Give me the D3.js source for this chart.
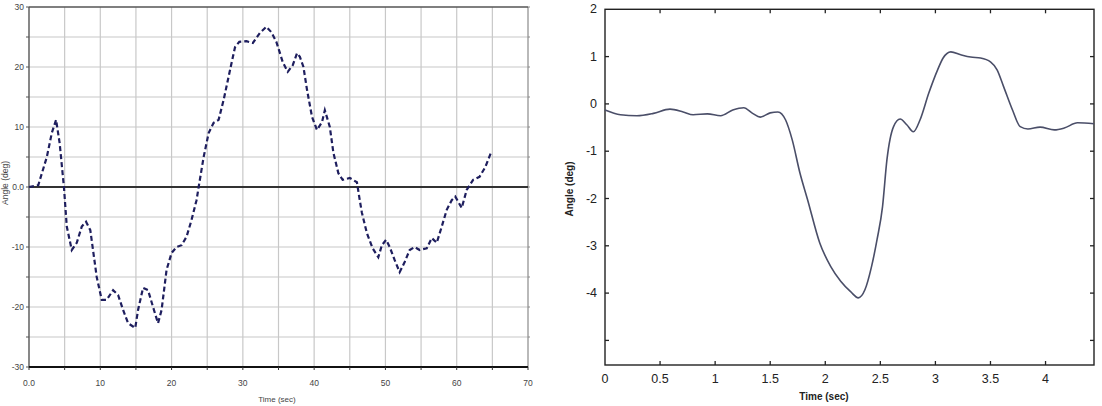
<!DOCTYPE html>
<html><head><meta charset="utf-8">
<script src="https://cdn.jsdelivr.net/npm/d3@7"></script>
<style>body{margin:0;background:#fff}svg{display:block}</style>
</head><body>
<svg id="c" width="1102" height="406"></svg>
<script>
// ---- Left chart data ----
const leftTime = [0,1.3,2.5,3.2,3.8,4.3,4.9,5.3,6.0,6.7,7.4,8.0,8.6,9.5,10.2,10.9,11.8,12.5,13.2,13.9,14.9,15.3,16.0,16.7,17.4,18.1,18.6,19.3,20.0,20.7,21.4,22.1,22.8,23.5,23.8,24.5,25.2,25.9,26.6,27.3,28.2,28.9,29.5,30.5,31.4,32.4,33.3,34.0,34.7,35.6,36.3,37.0,37.6,38.0,38.5,39.0,39.7,40.4,41.1,41.5,42.2,42.7,43.4,44.0,45.0,46.0,46.4,46.7,47.4,48.2,49.0,49.5,50.1,50.6,51.3,52.0,52.7,53.4,54.1,54.8,55.8,56.5,57.2,57.9,58.6,59.3,59.8,60.7,61.4,62.3,63.2,64.0,64.8];
const leftAngle = [0,0.3,5,9,11.2,7.3,0,-6.6,-10.5,-9.3,-6.6,-5.8,-7.2,-15,-18.8,-18.8,-17.2,-18,-20.5,-22.7,-23.5,-20.5,-16.8,-17.2,-20,-22.7,-20.5,-13.8,-11,-10,-9.7,-8.3,-5.5,-2.2,0,5,9,10.7,11.2,14.5,19.5,23.3,24.2,24.3,24,25.7,26.7,25.8,24.2,20.8,19.2,20.3,22.3,21.7,20,16.2,11.7,9.5,10.8,12.8,10,5.7,2.3,1.2,1.5,0.8,-2.2,-4.3,-7.7,-10.2,-11.7,-9.7,-8.8,-10,-12.2,-14.2,-12.5,-10.5,-10,-10.5,-10.2,-8.5,-9.3,-6.6,-3.8,-2.2,-1.6,-3.5,-0.5,1.2,1.7,3.3,5.7];
const leftXTicks = [0,10,20,30,40,50,60,70];
const leftXLabels = ["0.0","10","20","30","40","50","60","70"];
const leftYTicks = [30,20,10,0,-10,-20,-30];
const leftYLabels = ["30","20","10","0.0","-10","-20","-30"];

// ---- Right chart data ----
const rightTime = [0,0.14,0.29,0.44,0.59,0.71,0.80,0.93,1.05,1.16,1.26,1.34,1.41,1.50,1.57,1.64,1.70,1.77,1.84,1.95,2.05,2.14,2.23,2.30,2.36,2.42,2.47,2.52,2.56,2.62,2.68,2.74,2.80,2.86,2.94,3.02,3.07,3.14,3.23,3.32,3.41,3.50,3.56,3.62,3.70,3.77,3.84,3.95,4.08,4.17,4.29,4.44];
const rightAngle = [-0.13,-0.23,-0.25,-0.2,-0.11,-0.17,-0.23,-0.21,-0.25,-0.13,-0.08,-0.2,-0.28,-0.19,-0.17,-0.34,-0.76,-1.46,-2.03,-2.94,-3.44,-3.75,-3.97,-4.1,-3.93,-3.44,-2.87,-2.17,-1.18,-0.48,-0.32,-0.44,-0.59,-0.34,0.23,0.72,0.97,1.1,1.04,0.99,0.97,0.89,0.72,0.36,-0.13,-0.48,-0.53,-0.49,-0.55,-0.51,-0.4,-0.42];
const rightXTicks = [0,0.5,1,1.5,2,2.5,3,3.5,4];
const rightXLabels = ["0","0.5","1","1.5","2","2.5","3","3.5","4"];
const rightYTicks = [2,1,0,-1,-2,-3,-4,-5];
const rightYLabels = ["2","1","0","-1","-2","-3","-4",""];

const svg = d3.select("#c");

// ===== LEFT CHART =====
{
  const x = d3.scaleLinear().domain([0,70]).range([29,528]);
  const y = d3.scaleLinear().domain([-30,30]).range([367,7]);
  const g = svg.append("g");
  const grid5x = d3.range(5,70,5), grid5y = d3.range(-25,30,5);
  const lf = "Liberation Sans Narrow, Arial, sans-serif";
  g.selectAll(".vg").data(grid5x).join("line")
    .attr("x1",d=>x(d)).attr("x2",d=>x(d)).attr("y1",y(30)).attr("y2",y(-30))
    .attr("stroke","#c8c8c8").attr("stroke-width",1.2);
  g.selectAll(".hg").data(grid5y).join("line")
    .attr("x1",x(0)).attr("x2",x(70)).attr("y1",d=>y(d)).attr("y2",d=>y(d))
    .attr("stroke","#c8c8c8").attr("stroke-width",1.2);
  g.append("line").attr("x1",x(70)).attr("x2",x(70)).attr("y1",y(30)).attr("y2",y(-30)).attr("stroke","#8a8a8a").attr("stroke-width",1.2);
  g.selectAll(".rt").data(grid5y.concat([30])).join("line")
    .attr("x1",x(70)).attr("x2",x(70)+2).attr("y1",d=>y(d)).attr("y2",d=>y(d)).attr("stroke","#8a8a8a");
  g.append("line").attr("x1",x(0)).attr("x2",x(70)).attr("y1",y(30)).attr("y2",y(30)).attr("stroke","#555").attr("stroke-width",1.6);
  g.append("line").attr("x1",x(0)).attr("x2",x(70)).attr("y1",y(0)).attr("y2",y(0)).attr("stroke","#333").attr("stroke-width",1.8);
  g.append("line").attr("x1",x(0)).attr("x2",x(0)).attr("y1",y(30)).attr("y2",y(-30)).attr("stroke","#555").attr("stroke-width",1.4);
  g.selectAll(".lt").data(d3.range(-30,35,5)).join("line")
    .attr("x1",x(0)-3).attr("x2",x(0)).attr("y1",d=>y(d)).attr("y2",d=>y(d)).attr("stroke","#555");
  g.append("line").attr("x1",x(0)).attr("x2",x(70)).attr("y1",y(-30)).attr("y2",y(-30)).attr("stroke","#111").attr("stroke-width",2);
  g.selectAll(".bt").data(d3.range(0,75,5)).join("line")
    .attr("x1",d=>x(d)).attr("x2",d=>x(d)).attr("y1",y(-30)).attr("y2",y(-30)+3).attr("stroke","#333");
  g.selectAll(".xl").data(leftXTicks).join("text")
    .attr("x",d=>x(d)).attr("y",y(-30)+19).attr("text-anchor","middle")
    .attr("font-family",lf).attr("font-size",8.5).attr("fill","#444")
    .text((d,i)=>leftXLabels[i]);
  g.selectAll(".yl").data(leftYTicks).join("text")
    .attr("x",x(0)-5).attr("y",d=>y(d)+3).attr("text-anchor","end")
    .attr("font-family",lf).attr("font-size",8.5).attr("fill","#444")
    .text((d,i)=>leftYLabels[i]);
  g.append("text").attr("x",277).attr("y",402).attr("text-anchor","middle")
    .attr("font-family",lf).attr("font-size",8).attr("fill","#444").text("Time (sec)");
  g.append("text").attr("transform","translate(8,183) rotate(-90)").attr("text-anchor","middle")
    .attr("font-family",lf).attr("font-size",8.5).attr("fill","#444").text("Angle (deg)");
  const pts = leftTime.map((t,i)=>[t,leftAngle[i]]);
  g.append("path").datum(pts)
    .attr("d",d3.line().x(d=>x(d[0])).y(d=>y(d[1])))
    .attr("fill","none").attr("stroke","#1e1e5e").attr("stroke-width",2.2)
    .attr("stroke-dasharray","5,3");
}

// ===== RIGHT CHART =====
{
  const x = d3.scaleLinear().domain([0,4.44]).range([605,1094]);
  const y = d3.scaleLinear().domain([-5.52,2]).range([365,9.3]);
  const g = svg.append("g");
  const rf = "Liberation Sans, Arial, sans-serif";
  g.append("rect").attr("x",x(0)).attr("y",y(2)).attr("width",x(4.44)-x(0)).attr("height",y(-5.52)-y(2))
    .attr("fill","none").attr("stroke","#222").attr("stroke-width",1.4);
  const tk = 4;
  g.selectAll(".bt").data(rightXTicks.slice(1)).join("line")
    .attr("x1",d=>x(d)).attr("x2",d=>x(d)).attr("y1",y(-5.52)).attr("y2",y(-5.52)-tk).attr("stroke","#222").attr("stroke-width",1.3);
  g.selectAll(".tt").data(rightXTicks.slice(1)).join("line")
    .attr("x1",d=>x(d)).attr("x2",d=>x(d)).attr("y1",y(2)).attr("y2",y(2)+tk).attr("stroke","#222").attr("stroke-width",1.3);
  g.selectAll(".lt").data(rightYTicks.slice(1)).join("line")
    .attr("x1",x(0)).attr("x2",x(0)+tk).attr("y1",d=>y(d)).attr("y2",d=>y(d)).attr("stroke","#222").attr("stroke-width",1.3);
  g.selectAll(".rtk").data(rightYTicks.slice(1)).join("line")
    .attr("x1",x(4.44)).attr("x2",x(4.44)-tk).attr("y1",d=>y(d)).attr("y2",d=>y(d)).attr("stroke","#222").attr("stroke-width",1.3);
  g.selectAll(".xl").data(rightXTicks).join("text")
    .attr("x",d=>x(d)).attr("y",y(-5.52)+18).attr("text-anchor","middle")
    .attr("font-family",rf).attr("font-size",12.5).attr("fill","#222")
    .text((d,i)=>rightXLabels[i]);
  g.selectAll(".yl").data(rightYTicks).join("text")
    .attr("x",x(0)-8).attr("y",d=>y(d)+4).attr("text-anchor","end")
    .attr("font-family",rf).attr("font-size",12.5).attr("fill","#222")
    .text((d,i)=>rightYLabels[i]);
  g.append("text").attr("x",824).attr("y",400).attr("text-anchor","middle")
    .attr("font-family",rf).attr("font-size",10).attr("font-weight","bold").attr("fill","#222").text("Time (sec)");
  g.append("text").attr("transform","translate(573,189) rotate(-90)").attr("text-anchor","middle")
    .attr("font-family",rf).attr("font-size",10).attr("font-weight","bold").attr("fill","#222").text("Angle (deg)");
  const pts = rightTime.map((t,i)=>[t,rightAngle[i]]);
  g.append("path").datum(pts)
    .attr("d",d3.line().curve(d3.curveMonotoneX).x(d=>x(d[0])).y(d=>y(d[1])))
    .attr("fill","none").attr("stroke","#4a4e68").attr("stroke-width",1.6);
}
</script>
</body></html>
